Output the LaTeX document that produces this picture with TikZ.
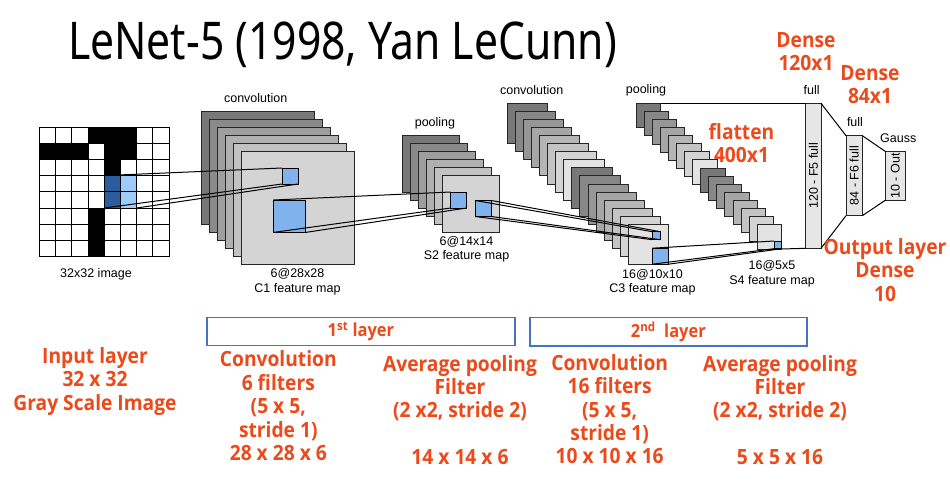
\documentclass[tikz,border=0pt]{standalone}
\usepackage{fontspec}
\setmainfont{Liberation Sans}
\newfontfamily\titlefont[FakeStretch=0.82]{Noto Sans}
\newfontfamily\otfont[FakeStretch=0.915]{Open Sans Bold}
\definecolor{orng}{HTML}{EC4A1A}
\definecolor{bsq}{HTML}{80B2EE}
\definecolor{dblue}{HTML}{2B5C9E}
\definecolor{lblue}{HTML}{9ECBFA}
\definecolor{boxblue}{HTML}{4472C4}
\definecolor{fcbox}{HTML}{E6E6E6}
\tikzset{
  sheet/.style={draw=black!85, line width=0.8pt, inner sep=0pt, outer sep=0pt, anchor=north west},
  bluesq/.style={draw=black, line width=0.8pt, fill=bsq, inner sep=0pt, outer sep=0pt, anchor=north west},
  proj/.style={draw=black, line width=1pt},
  gridline/.style={draw=black, line width=0.9pt},
  lbl/.style={font=\fontsize{12.5}{14.5}\selectfont, inner sep=0pt, align=center},
  otext/.style={font=\otfont\fontsize{21}{23.4}\selectfont, text=orng, align=center, inner sep=0pt},
  fc/.style={draw=black!85, line width=0.8pt, fill=fcbox, inner sep=0pt, outer sep=0pt, anchor=north west},
  layerbox/.style={draw=boxblue, line width=1.6pt, inner sep=0pt, outer sep=0pt, anchor=north west},
  ptitle/.style={font=\titlefont\fontsize{52}{60}\selectfont, inner sep=0pt, anchor=base}
}
\begin{document}
\begin{tikzpicture}[x=1pt,y=-1pt]
\fill[white] (0,0) rectangle (950,482);
\useasboundingbox (0,0) rectangle (950,482);

% title
\node[ptitle] (title) at (342.5,59) {LeNet-5 (1998, Yan LeCunn)};

% input grid
\pgfmathsetmacro\gx{39.5}
\pgfmathsetmacro\gy{127}
\pgfmathsetmacro\gc{16.2}
\foreach \ro/\co in {0/3,0/4,0/5,1/0,1/1,1/2,1/4,1/5,2/4,5/3,6/3,7/3}
  \fill[black] ({\gx+\co*\gc},{\gy+\ro*\gc}) rectangle ++(\gc,\gc);
\fill[dblue] ({\gx+4*\gc},{\gy+3*\gc}) rectangle ++(\gc,{2*\gc});
\fill[lblue] ({\gx+5*\gc},{\gy+3*\gc}) rectangle ++(\gc,{2*\gc});
\foreach \k in {0,...,8} {
  \draw[gridline] ({\gx+\k*\gc},\gy) -- ++(0,{8*\gc});
  \draw[gridline] (\gx,{\gy+\k*\gc}) -- ++({8*\gc},0);
}
\node[anchor=north west, inner sep=0pt, outer sep=0pt, minimum width=32.4pt, minimum height=32.4pt] (ip) at ({\gx+4*\gc},{\gy+3*\gc}) {};

% C1 stack
\foreach \i/\g in {0/53,1/46,2/38,3/31,4/24,5/17}
  \node[sheet, fill=black!\g, minimum size=112.5pt] (c1s\i) at ({201.5+8.05*\i},{111.5+8.05*\i}) {};
% S2 stack
\foreach \i/\g in {0/53,1/46,2/38,3/31,4/24,5/17}
  \node[sheet, fill=black!\g, minimum size=57pt] (s2s\i) at ({402.3+8*\i},{135.7+8*\i}) {};
% C3 stack
\foreach \i in {0,...,15} {
  \pgfmathtruncatemacro\g{53-6*mod(\i,8)}
  \node[sheet, fill=black!\g, minimum size=40.3pt] (c3s\i) at ({507.3+8.06*\i},{103.3+8.06*\i}) {};
}
% S4 stack
\foreach \i in {0,...,15} {
  \pgfmathtruncatemacro\g{53-6*mod(\i,8)}
  \node[sheet, fill=black!\g, minimum size=24.5pt] (s4s\i) at ({636+8.08*\i},{103.3+8.08*\i}) {};
}
% fully connected
\node[fc, minimum width=15.3pt, minimum height=145pt] (f5) at (805.7,103.3) {};
\node[fc, minimum width=16.3pt, minimum height=80pt] (f6) at (846,135.7) {};
\node[fc, minimum width=19.3pt, minimum height=48.3pt] (out) at (885.7,151.7) {};
\node[lbl, rotate=90] (f5t) at (f5.center) {120 - F5 full};
\node[lbl, rotate=90] (f6t) at (f6.center) {84 - F6 full};
\node[lbl, rotate=90] (outt) at (out.center) {10 - Out};

% blue receptive fields
\node[bluesq, minimum size=16pt] (c1a) at (282,168) {};
\node[bluesq, minimum size=32.4pt] (c1b) at (273.3,200) {};
\node[bluesq, minimum size=16pt] (s2a) at (450.7,192) {};
\node[bluesq, minimum size=16pt] (s2b) at (475.3,200.5) {};
\node[bluesq, minimum size=8pt] (c3a) at (652.3,231.7) {};
\node[bluesq, minimum size=16pt] (c3b) at (652.3,248.2) {};
\node[bluesq, minimum size=7.7pt] (s4a) at (774,241) {};

% projections
\draw[proj] (ip.north west) -- (c1a.north west);
\draw[proj] (ip.south west) -- (c1a.south west);
\draw[proj] (ip.south east) -- (c1a.south east);
\draw[proj] (c1b.north west) -- (s2a.north west);
\draw[proj] (c1b.south west) -- (s2a.south west);
\draw[proj] (c1b.south east) -- (s2a.south east);
\draw[proj] (s2b.north west) -- (c3a.north west);
\draw[proj] (s2b.north east) -- (c3a.north east);
\draw[proj] (s2b.south west) -- (c3a.south west);
\draw[proj] (s2b.south east) -- (c3a.south east);
\draw[proj] (c3b.north west) -- (s4a.north west);
\draw[proj] (c3b.south west) -- (s4a.south west);
\draw[proj] (c3b.south east) -- (s4a.south east);
\draw[proj] (s4s0.north east) -- (f5.north west);
\draw[proj] (s4s15.south east) -- (f5.south west);
\draw[proj] (f5.north east) -- (f6.north west);
\draw[proj] (f5.south east) -- (f6.south west);
\draw[proj] (f6.north east) -- (out.north west);
\draw[proj] (f6.south east) -- (out.south west);

% small labels
\node[lbl] (lconv1) at (255.7,98) {convolution};
\node[lbl] (lpool1) at (435,123) {pooling};
\node[lbl] (lconv2) at (531.7,90) {convolution};
\node[lbl] (lpool2) at (646,90) {pooling};
\node[lbl] (lfull1) at (811.7,90) {full};
\node[lbl] (lfull2) at (855,121.7) {full};
\node[lbl] (lgauss) at (898.3,138.3) {Gauss};
\node[lbl] (linput) at (96,274) {32x32 image};
\node[lbl] (lc1) at (297.5,282) {6@28x28\\C1 feature map};
\node[lbl] (ls2) at (466.5,249.5) {6@14x14\\S2 feature map};
\node[lbl] (lc3) at (652.5,282.5) {16@10x10\\C3 feature map};
\node[lbl] (ls4) at (772,274) {16@5x5\\S4 feature map};

% orange annotations
\node[otext] (flat) at (741.5,143.3) {flatten\\400x1};
\node[otext] (d120) at (806,51.7) {Dense\\120x1};
\node[otext] (d84) at (870,84.7) {Dense\\84x1};
\node[otext] (outl) at (885,270) {Output layer\\Dense\\10};
\node[otext] (inl) at (95,381.5) {Input layer\\32 x 32\\Gray Scale Image};

% layer boxes
\node[layerbox, minimum width=308.3pt, minimum height=28.2pt] (box1) at (206.7,317.3) {};
\node[layerbox, minimum width=276.7pt, minimum height=28.7pt] (box2) at (530,317.3) {};
\node[otext, font=\otfont\fontsize{18}{20}\selectfont] (b1t) at (box1.center) {1\textsuperscript{st} layer};
\node[otext, font=\otfont\fontsize{18}{20}\selectfont] (b2t) at (box2.center) {2\textsuperscript{nd}\ \ layer};

\node[otext] (conv1) at (278.3,405.8) {Convolution\\6 filters\\(5 x 5,\\stride 1)\\28 x 28 x 6};
\node[otext] (pool1) at (460,410) {Average pooling\\Filter\\(2 x2, stride 2)\\[23.4pt]14 x 14 x 6};
\node[otext] (conv2) at (609.7,409.3) {Convolution\\16 filters\\(5 x 5,\\stride 1)\\10 x 10 x 16};
\node[otext] (pool2) at (780,410) {Average pooling\\Filter\\(2 x2, stride 2)\\[23.4pt]5 x 5 x 16};
\end{tikzpicture}
\end{document}
